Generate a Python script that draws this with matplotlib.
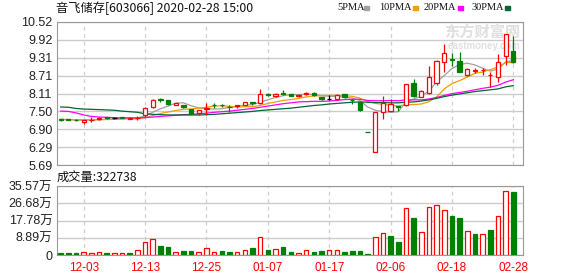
import matplotlib
matplotlib.use('Agg')
import matplotlib.pyplot as plt
from matplotlib.patches import Rectangle
import numpy as np

plt.rcParams['font.family'] = ['Liberation Sans', 'Noto Sans CJK SC', 'DejaVu Sans']

# ---- данные ----
dates = ['11-28', '11-29', '12-02', '12-03', '12-04', '12-05', '12-06', '12-09', '12-10', '12-11',
         '12-12', '12-13', '12-16', '12-17', '12-18', '12-19', '12-20', '12-23', '12-24', '12-25',
         '12-26', '12-27', '12-30', '12-31', '01-02', '01-03', '01-06', '01-07', '01-08', '01-09',
         '01-10', '01-13', '01-14', '01-15', '01-16', '01-17', '01-20', '01-21', '01-22', '01-23',
         '02-03', '02-04', '02-05', '02-06', '02-07', '02-10', '02-11', '02-12', '02-13', '02-14',
         '02-17', '02-18', '02-19', '02-20', '02-21', '02-24', '02-25', '02-26', '02-27', '02-28']
shown_dates = ['12-03', '12-13', '12-25', '01-07', '01-17', '02-06', '02-18', '02-28']

opens = [7.24, 7.23, 7.22, 7.14, 7.20, 7.25, 7.31, 7.28, 7.30, 7.26,
         7.27, 7.38, 7.66, 7.92, 7.89, 7.73, 7.72, 7.57, 7.46, 7.57,
         7.73, 7.72, 7.66, 7.67, 7.72, 7.81, 7.77, 8.09, 8.02, 8.12,
         8.09, 8.02, 8.10, 8.13, 7.99, 7.92, 7.92, 8.08, 7.90, 7.81,
         6.81, 6.12, 7.47, 7.52, 7.67, 7.70, 8.47, 8.00, 8.13, 8.45,
         9.18, 9.26, 9.20, 8.73, 8.88, 8.89, 8.72, 8.65, 9.37, 9.54]
closes = [7.22, 7.21, 7.20, 7.21, 7.22, 7.28, 7.27, 7.28, 7.29, 7.28,
          7.29, 7.60, 7.90, 7.89, 7.74, 7.77, 7.64, 7.41, 7.55, 7.60,
          7.71, 7.70, 7.64, 7.71, 7.81, 7.79, 8.08, 8.07, 8.10, 8.09,
          8.03, 8.05, 8.12, 8.05, 7.91, 7.92, 8.05, 7.98, 7.87, 7.55,
          6.80, 7.48, 7.77, 7.75, 7.65, 8.42, 8.02, 8.20, 8.65, 9.20,
          9.46, 9.24, 8.84, 8.92, 8.90, 8.91, 8.74, 9.18, 10.10, 9.18]
highs = [7.26, 7.24, 7.23, 7.22, 7.30, 7.30, 7.32, 7.30, 7.31, 7.31,
         7.35, 7.66, 7.93, 7.95, 7.90, 7.78, 7.73, 7.57, 7.56, 7.79,
         7.77, 7.75, 7.72, 7.73, 7.82, 7.83, 8.25, 8.12, 8.12, 8.22,
         8.10, 8.08, 8.16, 8.15, 8.00, 8.04, 8.10, 8.10, 7.92, 7.83,
         6.81, 7.48, 8.02, 7.91, 7.68, 8.42, 8.58, 8.23, 9.03, 9.25,
         9.78, 9.46, 9.52, 8.95, 8.98, 8.96, 8.84, 9.44, 10.10, 10.05]
lows = [7.17, 7.20, 7.19, 7.09, 7.14, 7.22, 7.26, 7.26, 7.27, 7.25,
        7.20, 7.31, 7.63, 7.83, 7.73, 7.70, 7.63, 7.40, 7.38, 7.38,
        7.62, 7.66, 7.48, 7.62, 7.70, 7.70, 7.74, 8.01, 7.97, 8.05,
        8.01, 7.98, 8.06, 8.03, 7.89, 7.89, 7.90, 7.96, 7.75, 7.50,
        6.80, 6.12, 7.23, 7.50, 7.52, 7.68, 8.00, 7.98, 8.10, 8.40,
        8.84, 9.03, 8.82, 8.70, 8.80, 8.72, 8.34, 8.50, 9.07, 9.15]
prev_close = 7.24

ma5 = [7.23, 7.22, 7.21, 7.20, 7.21, 7.22, 7.23, 7.25, 7.27, 7.28,
       7.28, 7.35, 7.47, 7.59, 7.68, 7.78, 7.79, 7.69, 7.62, 7.59,
       7.58, 7.59, 7.64, 7.67, 7.71, 7.73, 7.81, 7.89, 7.97, 8.03,
       8.07, 8.07, 8.08, 8.07, 8.03, 8.01, 8.01, 7.98, 7.95, 7.87,
       7.65, 7.54, 7.49, 7.47, 7.49, 7.81, 7.92, 8.01, 8.19, 8.50,
       8.71, 8.95, 9.08, 9.13, 9.07, 8.96, 8.86, 8.93, 9.17, 9.22]
ma10 = [7.23, 7.23, 7.22, 7.22, 7.22, 7.22, 7.23, 7.23, 7.24, 7.25,
        7.25, 7.29, 7.36, 7.43, 7.48, 7.53, 7.57, 7.58, 7.61, 7.64,
        7.68, 7.69, 7.67, 7.65, 7.66, 7.66, 7.70, 7.77, 7.82, 7.87,
        7.90, 7.94, 7.99, 8.02, 8.03, 8.04, 8.04, 8.03, 8.01, 7.95,
        7.83, 7.77, 7.74, 7.71, 7.68, 7.73, 7.73, 7.75, 7.83, 7.99,
        8.26, 8.44, 8.54, 8.66, 8.79, 8.83, 8.91, 9.00, 9.15, 9.15]
ma20 = [7.51, 7.50, 7.45, 7.38, 7.33, 7.31, 7.30, 7.29, 7.28, 7.28,
        7.28, 7.29, 7.31, 7.33, 7.35, 7.37, 7.39, 7.40, 7.42, 7.44,
        7.47, 7.49, 7.51, 7.54, 7.57, 7.60, 7.64, 7.68, 7.72, 7.76,
        7.79, 7.82, 7.83, 7.84, 7.84, 7.85, 7.87, 7.90, 7.91, 7.91,
        7.87, 7.86, 7.86, 7.87, 7.86, 7.89, 7.89, 7.89, 7.92, 7.97,
        8.04, 8.10, 8.14, 8.18, 8.23, 8.28, 8.32, 8.38, 8.49, 8.57]
ma30 = [7.65, 7.64, 7.60, 7.58, 7.57, 7.56, 7.55, 7.54, 7.51, 7.49,
        7.47, 7.42, 7.40, 7.39, 7.38, 7.38, 7.38, 7.38, 7.38, 7.39,
        7.40, 7.42, 7.44, 7.46, 7.48, 7.50, 7.53, 7.55, 7.57, 7.59,
        7.61, 7.64, 7.67, 7.70, 7.72, 7.75, 7.77, 7.79, 7.81, 7.82,
        7.81, 7.80, 7.80, 7.79, 7.79, 7.81, 7.82, 7.85, 7.89, 7.94,
        8.00, 8.05, 8.09, 8.13, 8.17, 8.20, 8.23, 8.26, 8.33, 8.37]

volumes = [12000, 12000, 12000, 14000, 10000, 15000, 10000, 10000, 10000, 10000,
           26000, 65000, 81000, 46000, 40000, 17000, 19000, 19000, 17000, 38000,
           17000, 19000, 14000, 14000, 27000, 34000, 91000, 26000, 33000, 40000,
           15000, 12000, 24000, 15000, 21000, 24000, 24000, 15000, 21000, 21000,
           5000, 91000, 112000, 98000, 67000, 240000, 191000, 117000, 246000, 256000,
           232000, 201000, 191000, 122000, 108000, 106000, 129000, 199000, 330000, 322738]

price_ticks = ['5.69', '6.29', '6.90', '7.50', '8.11', '8.71', '9.31', '9.92', '10.52']
vol_ticks = ['0', '8.89万', '17.78万', '26.68万', '35.57万']
vol_max = 355700

ma_names = ['5PMA', '10PMA', '20PMA', '30PMA']
ma_colors = ['#a0a0a0', '#f0a000', '#ff00ff', '#006633']

RED = '#ff0000'
GREEN = '#008000'

# ---- фигура ----
W, H = 578, 276
fig = plt.figure(figsize=(W / 100, H / 100), dpi=100)


def box(l, t, r, b):
    return [l / W, 1 - b / H, (r - l) / W, (b - t) / H]


ax = fig.add_axes(box(56.5, 22, 522.5, 165))
axv = fig.add_axes(box(56.5, 186, 522.5, 255))

x = np.arange(len(dates))
o = np.array(opens)
c = np.array(closes)
tick_idx = [dates.index(d) for d in shown_dates]

# свечи
cols = [RED if cc > oo else (GREEN if cc < oo else 'black') for oo, cc in zip(o, c)]
faces = ['white' if cc > oo else col for oo, cc, col in zip(o, c, cols)]
ax.vlines(x, lows, highs, colors=cols, linewidth=0.9, zorder=3)
ax.bar(x, np.abs(c - o), bottom=np.minimum(o, c), width=0.55,
       color=faces, edgecolor=cols, linewidth=0.9, zorder=4)

for ma, col in zip([ma5, ma10, ma20, ma30], ma_colors):
    ax.plot(x, ma, color=col, linewidth=0.9, zorder=2)

ax.set_ylim(5.69, 10.52)
ax.set_yticks(np.linspace(5.69, 10.52, len(price_ticks)))
ax.set_yticklabels(price_ticks)

# объём: цвет по изменению к предыдущему закрытию
prev = np.concatenate([[prev_close], c[:-1]])
up = c > prev
vcols = [RED if u else GREEN for u in up]
vfaces = ['white' if u else GREEN for u in up]
axv.bar(x, volumes, width=0.6, color=vfaces, edgecolor=vcols, linewidth=0.9, zorder=3)
axv.set_ylim(0, vol_max)
axv.set_yticks(np.linspace(0, vol_max, len(vol_ticks)))
axv.set_yticklabels(vol_ticks)

for a in (ax, axv):
    a.set_xlim(-0.55, 60.2)
    a.set_xticks(tick_idx)
    a.grid(axis='y', color='#cccccc', linewidth=1, linestyle='-', zorder=0)
    a.grid(axis='x', color='#cfcfcf', linewidth=0.9, linestyle=(0, (3, 3)), zorder=0)
    a.set_axisbelow(True)
    for s in a.spines.values():
        s.set_color('#999999')
    a.tick_params(length=0, pad=3, labelsize=9, labelcolor='#222222')

ax.set_xticklabels([])
axv.set_xticklabels(shown_dates, color=RED, fontsize=8.5)
axv.tick_params(axis='x', pad=5)

# водяной знак
ax.text(0.995, 0.93, '东方财富网', transform=ax.transAxes, ha='right', va='center',
        fontsize=11, color='#e0e0e0', family=['Noto Sans CJK SC'], fontweight='bold', zorder=1)
ax.text(0.995, 0.83, 'eastmoney.com', transform=ax.transAxes, ha='right', va='center',
        fontsize=7, color='#e0e0e0', fontweight='bold', zorder=1)

# заголовок и легенда
fig.text(56 / W, 1 - 8 / H, '音飞储存[603066] 2020-02-28 15:00', ha='left', va='center',
         fontsize=8.8, color='#111111', family=['Noto Sans CJK SC', 'DejaVu Sans'])
leg_x = [337, 379, 424, 471]
for lx, name, col in zip(leg_x, ma_names, ma_colors):
    fig.text(lx / W, 1 - 8 / H, name, ha='left', va='center', fontsize=7.5,
             color='#111111', family=['Liberation Serif'])
    tw = len(name) * 6.3
    fig.add_artist(Rectangle(((lx + tw + 2) / W, 1 - 10 / H), 5 / W, 4 / H,
                             transform=fig.transFigure, color=col))

fig.text(57 / W, 1 - 177 / H, '成交量:%d' % volumes[-1], ha='left', va='center',
         fontsize=8.8, color='#111111', family=['Noto Sans CJK SC', 'DejaVu Sans'])

fig.savefig('out.png', dpi=100)
